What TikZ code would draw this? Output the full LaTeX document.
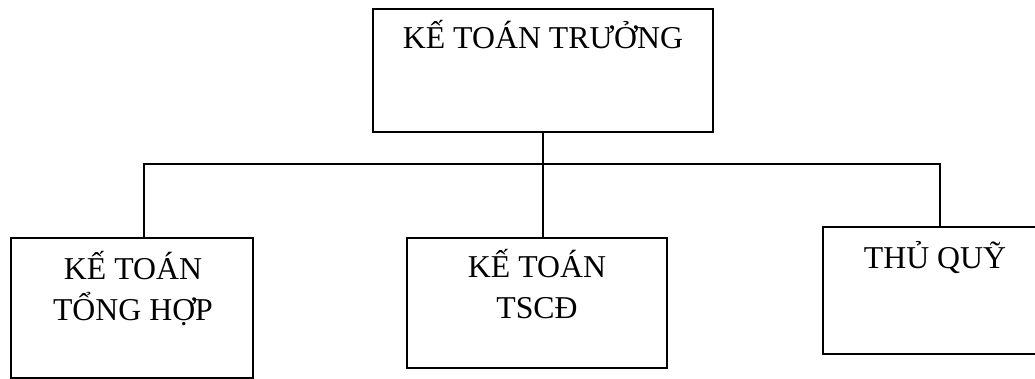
\documentclass[tikz,border=0pt]{standalone}
\usepackage{fontspec}
\setmainfont{Liberation Serif}
\usetikzlibrary{positioning}
\tikzset{
  box/.style={draw, rectangle, inner sep=0pt},
  boxtext/.style={font=\fontsize{31.8}{41}\selectfont, align=center, anchor=base, inner sep=0pt},
}
\begin{document}
\begin{tikzpicture}[x=1pt,y=1pt,line width=1.1pt]
    \useasboundingbox (0,0) rectangle (1035,-379);
    % boxes
    \node[box, minimum width=340, minimum height=123] (truong) at (543,-70.5) {};
    \node[box, minimum width=242, minimum height=140] (tonghop) at (132,-308) {};
    \node[box, minimum width=260, minimum height=130] (tscd) at (537,-303) {};
    \node[box, minimum width=224, minimum height=127] (thuquy) at (935,-290.5) {};
    % texts (base = last line)
    \node[boxtext] (ttruong) at (543,-49) {KẾ TOÁN TRƯỞNG};
    \node[boxtext] (ttonghop) at (133,-320) {KẾ TOÁN\\TỔNG HỢP};
    \node[boxtext] (ttscd) at (537,-318) {KẾ TOÁN\\TSCĐ};
    \node[boxtext] (tthuquy) at (935,-268) {THỦ QUỸ};
    % connectors
    \coordinate (busL) at (144,-164);
    \coordinate (busR) at (940,-164);
    \draw (truong.south) -- (truong.south |- tscd.north);
    \draw (busL |- tonghop.north) -- (busL) -- (busR) -- (busR |- thuquy.north);
\end{tikzpicture}
\end{document}
